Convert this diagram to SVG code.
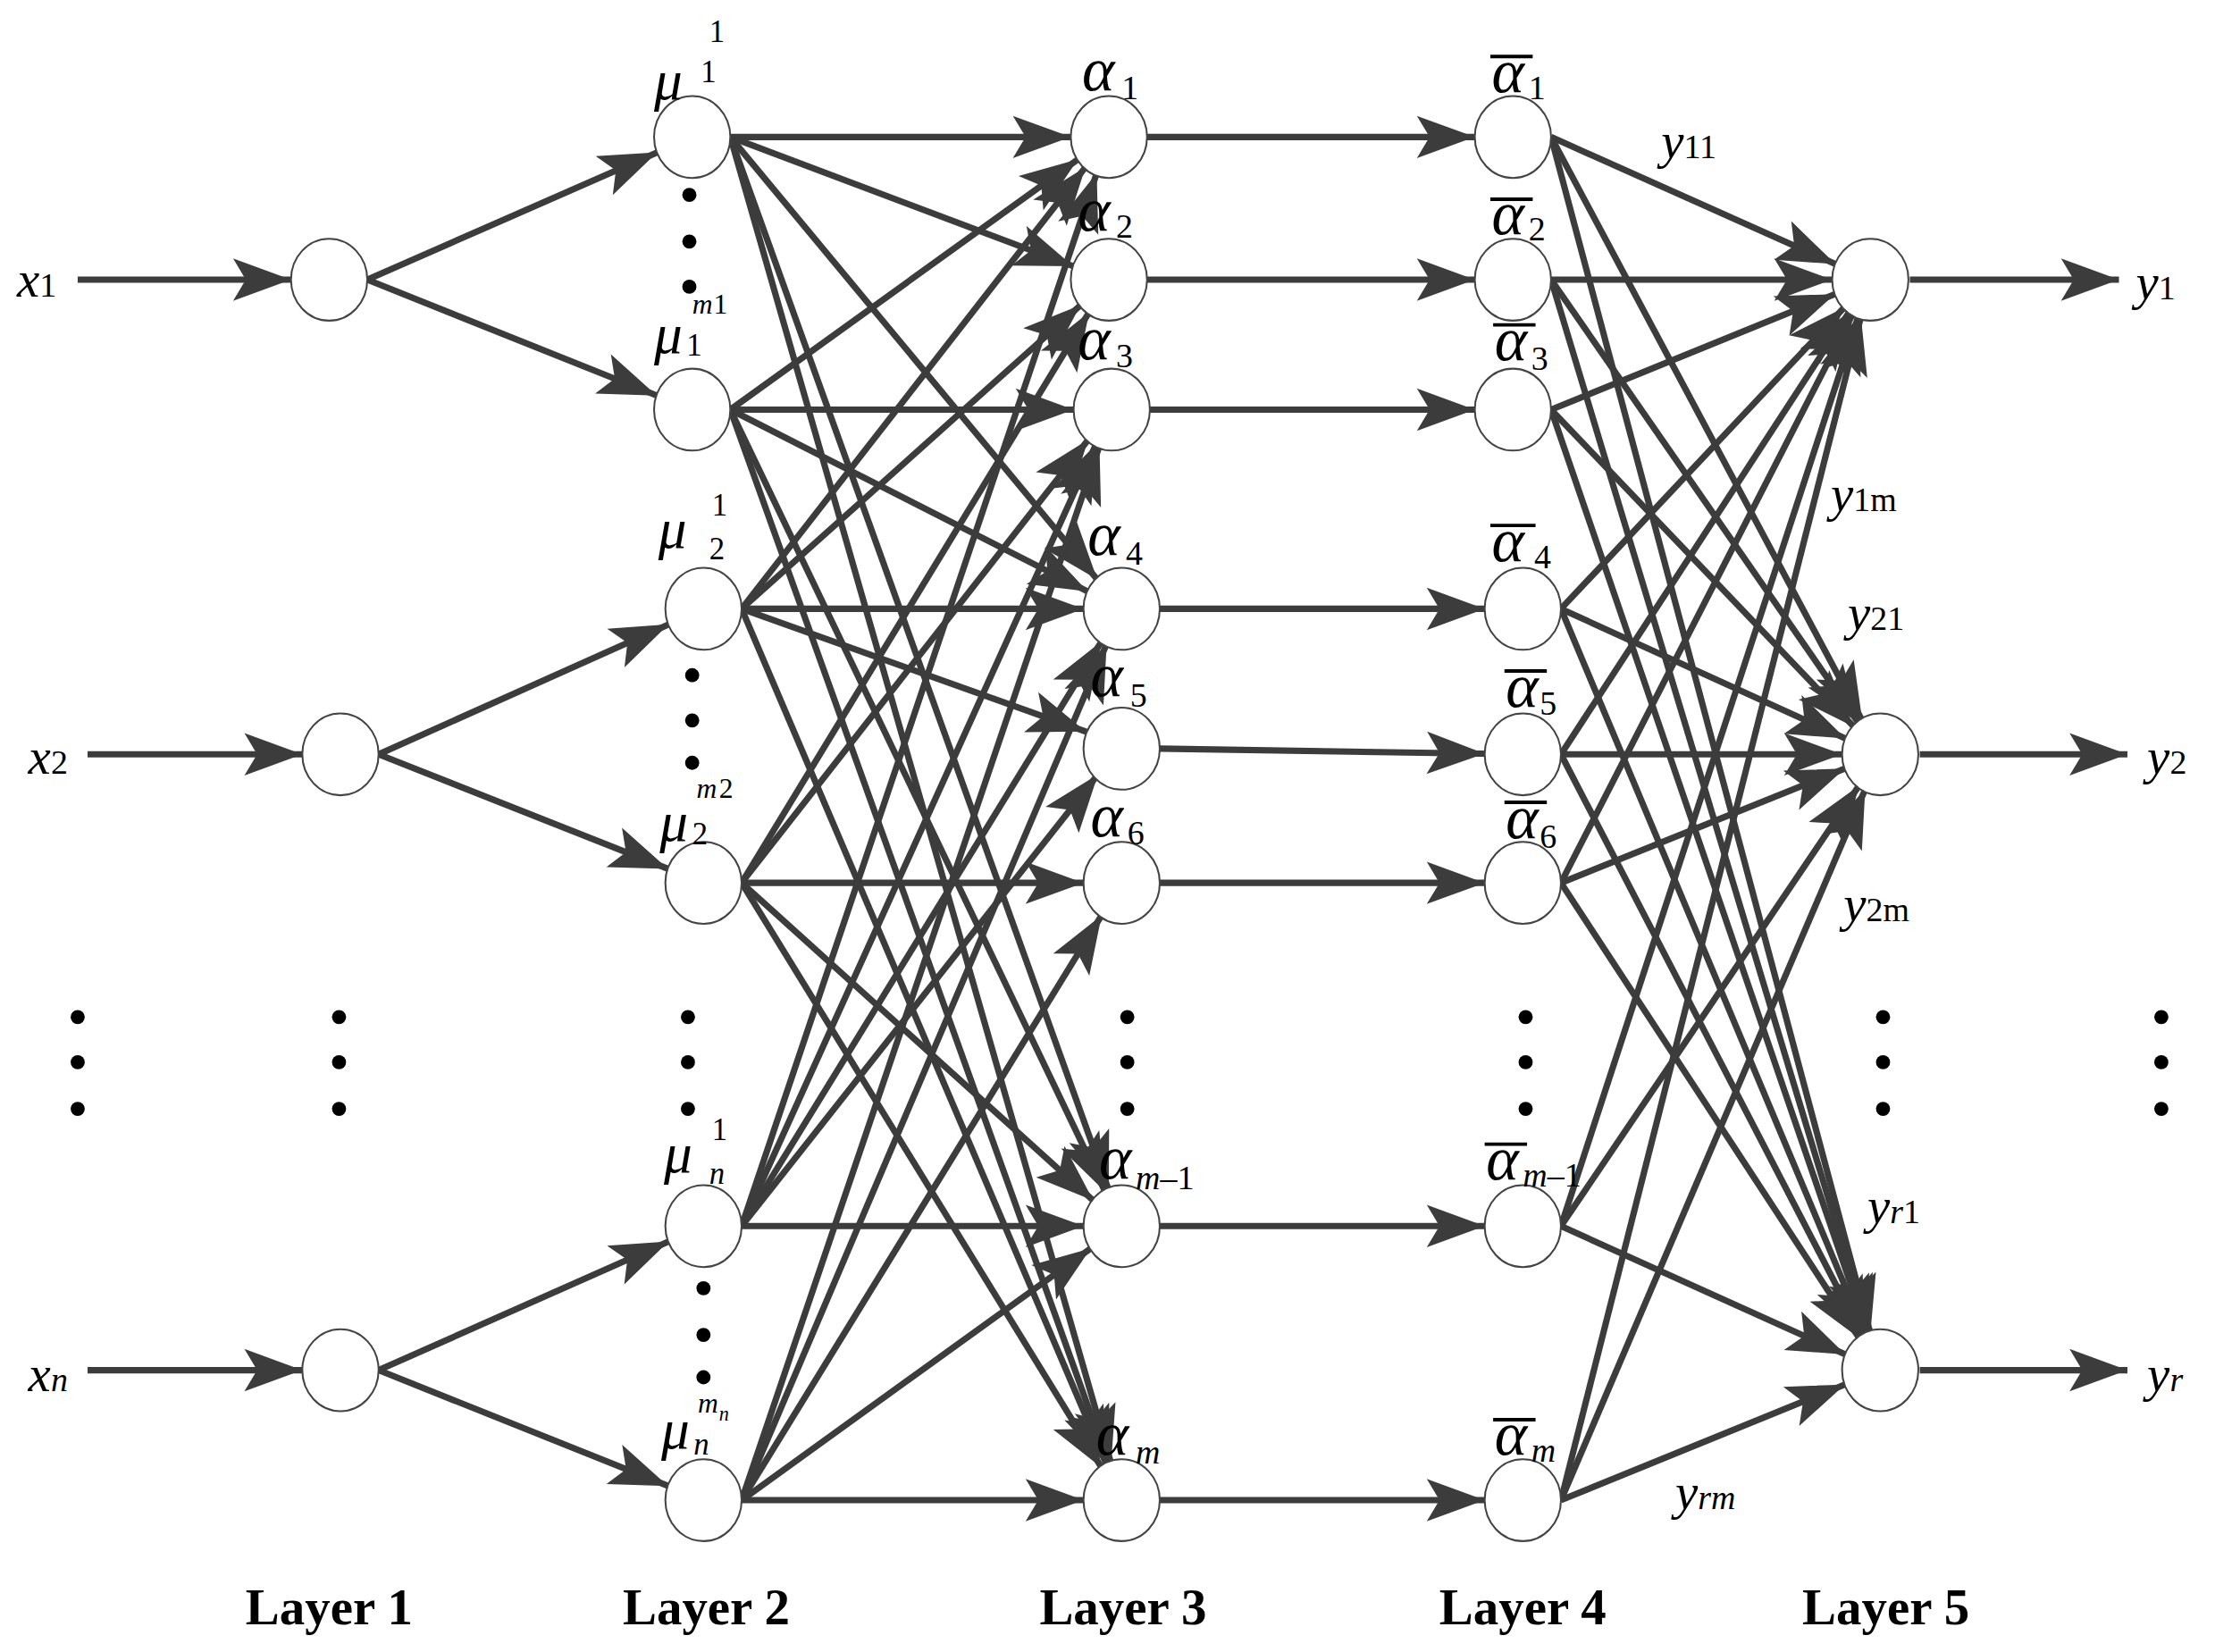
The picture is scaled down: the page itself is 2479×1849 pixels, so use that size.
<svg xmlns="http://www.w3.org/2000/svg" width="2479" height="1849" viewBox="0 0 2479 1849">
<style>
.c line{stroke:#3c3c3c;stroke-width:4.5;marker-end:url(#ah)}
.n ellipse{fill:#fff;stroke:#444;stroke-width:1.3}
text{font-family:"Liberation Serif","Times New Roman",serif;fill:#000}
.i{font-style:italic}
.b{font-weight:bold;font-size:36px}
.ob{stroke:#000;stroke-width:2.5}
</style>
<defs>
<marker id="ah" markerUnits="userSpaceOnUse" orient="auto" refX="0" refY="0" markerWidth="10" markerHeight="10" overflow="visible"><path d="M-27,0 L-68,-15 L-59,0 L-68,15 z" fill="#3c3c3c"/></marker>
<marker id="ae" markerUnits="userSpaceOnUse" orient="auto" refX="0" refY="0" markerWidth="10" markerHeight="10" overflow="visible"><path d="M0,0 L-41,-15 L-32,0 L-41,15 z" fill="#3c3c3c"/></marker>
</defs>
<rect width="2479" height="1849" fill="#fff"/>
<g transform="scale(1.581)">
<g id="connectors" class="c">
<line x1="55" y1="198" x2="233" y2="198"/>
<line x1="62" y1="534" x2="241" y2="534"/>
<line x1="62" y1="970" x2="241" y2="970"/>
<line x1="260" y1="198" x2="490" y2="97"/>
<line x1="260" y1="198" x2="490" y2="290"/>
<line x1="268" y1="534" x2="498" y2="431"/>
<line x1="268" y1="534" x2="498" y2="625"/>
<line x1="268" y1="970" x2="498" y2="868"/>
<line x1="268" y1="970" x2="498" y2="1062"/>
<line x1="517" y1="97" x2="785" y2="97"/>
<line x1="517" y1="97" x2="785" y2="198"/>
<line x1="517" y1="97" x2="794" y2="431"/>
<line x1="517" y1="97" x2="794" y2="868"/>
<line x1="517" y1="97" x2="794" y2="1062"/>
<line x1="517" y1="290" x2="785" y2="97"/>
<line x1="517" y1="290" x2="787" y2="290"/>
<line x1="517" y1="290" x2="794" y2="431"/>
<line x1="517" y1="290" x2="794" y2="868"/>
<line x1="517" y1="290" x2="794" y2="1062"/>
<line x1="525" y1="431" x2="785" y2="97"/>
<line x1="525" y1="431" x2="785" y2="198"/>
<line x1="525" y1="431" x2="794" y2="431"/>
<line x1="525" y1="431" x2="794" y2="527"/>
<line x1="525" y1="431" x2="794" y2="1062"/>
<line x1="525" y1="625" x2="785" y2="198"/>
<line x1="525" y1="625" x2="787" y2="290"/>
<line x1="525" y1="625" x2="794" y2="625"/>
<line x1="525" y1="625" x2="794" y2="868"/>
<line x1="525" y1="625" x2="794" y2="1062"/>
<line x1="525" y1="868" x2="785" y2="97"/>
<line x1="525" y1="868" x2="787" y2="290"/>
<line x1="525" y1="868" x2="794" y2="431"/>
<line x1="525" y1="868" x2="794" y2="527"/>
<line x1="525" y1="868" x2="794" y2="868"/>
<line x1="525" y1="1062" x2="787" y2="290"/>
<line x1="525" y1="1062" x2="794" y2="431"/>
<line x1="525" y1="1062" x2="794" y2="625"/>
<line x1="525" y1="1062" x2="794" y2="868"/>
<line x1="525" y1="1062" x2="794" y2="1062"/>
<line x1="812" y1="97" x2="1071" y2="97"/>
<line x1="812" y1="198" x2="1071" y2="198"/>
<line x1="814" y1="290" x2="1071" y2="290"/>
<line x1="821" y1="431" x2="1078" y2="431"/>
<line x1="821" y1="530" x2="1078" y2="534"/>
<line x1="821" y1="625" x2="1078" y2="625"/>
<line x1="821" y1="868" x2="1078" y2="868"/>
<line x1="821" y1="1062" x2="1078" y2="1062"/>
<line x1="1098" y1="97" x2="1324" y2="198"/>
<line x1="1098" y1="97" x2="1331" y2="534"/>
<line x1="1098" y1="97" x2="1331" y2="970"/>
<line x1="1098" y1="198" x2="1324" y2="198"/>
<line x1="1098" y1="198" x2="1331" y2="534"/>
<line x1="1098" y1="198" x2="1331" y2="970"/>
<line x1="1098" y1="290" x2="1324" y2="198"/>
<line x1="1098" y1="290" x2="1331" y2="534"/>
<line x1="1098" y1="290" x2="1331" y2="970"/>
<line x1="1105" y1="431" x2="1324" y2="198"/>
<line x1="1105" y1="431" x2="1331" y2="534"/>
<line x1="1105" y1="431" x2="1331" y2="970"/>
<line x1="1105" y1="534" x2="1324" y2="198"/>
<line x1="1105" y1="534" x2="1331" y2="534"/>
<line x1="1105" y1="534" x2="1331" y2="970"/>
<line x1="1105" y1="625" x2="1324" y2="198"/>
<line x1="1105" y1="625" x2="1331" y2="534"/>
<line x1="1105" y1="625" x2="1331" y2="970"/>
<line x1="1105" y1="868" x2="1324" y2="198"/>
<line x1="1105" y1="868" x2="1331" y2="534"/>
<line x1="1105" y1="868" x2="1331" y2="970"/>
<line x1="1105" y1="1062" x2="1324" y2="198"/>
<line x1="1105" y1="1062" x2="1331" y2="534"/>
<line x1="1105" y1="1062" x2="1331" y2="970"/>
<line x1="1352" y1="198" x2="1500" y2="198" style="marker-end:url(#ae)"/>
<line x1="1359" y1="534" x2="1506" y2="534" style="marker-end:url(#ae)"/>
<line x1="1359" y1="970" x2="1506" y2="970" style="marker-end:url(#ae)"/>
</g>
<g class="n">
<g id="n-l1-1"><ellipse cx="233" cy="198" rx="27" ry="29"/></g>
<g id="n-l1-2"><ellipse cx="241" cy="534" rx="27" ry="29"/></g>
<g id="n-l1-n"><ellipse cx="241" cy="970" rx="27" ry="29"/></g>
<g id="n-mu11"><ellipse cx="490" cy="97" rx="27" ry="29"/></g>
<g id="n-mu1m"><ellipse cx="490" cy="290" rx="27" ry="29"/></g>
<g id="n-mu21"><ellipse cx="498" cy="431" rx="27" ry="29"/></g>
<g id="n-mu2m"><ellipse cx="498" cy="625" rx="27" ry="29"/></g>
<g id="n-mun1"><ellipse cx="498" cy="868" rx="27" ry="29"/></g>
<g id="n-munm"><ellipse cx="498" cy="1062" rx="27" ry="29"/></g>
<g id="n-a1"><ellipse cx="785" cy="97" rx="27" ry="29"/></g>
<g id="n-a2"><ellipse cx="785" cy="198" rx="27" ry="29"/></g>
<g id="n-a3"><ellipse cx="787" cy="290" rx="27" ry="29"/></g>
<g id="n-a4"><ellipse cx="794" cy="431" rx="27" ry="29"/></g>
<g id="n-a5"><ellipse cx="794" cy="530" rx="27" ry="29"/></g>
<g id="n-a6"><ellipse cx="794" cy="625" rx="27" ry="29"/></g>
<g id="n-am1"><ellipse cx="794" cy="868" rx="27" ry="29"/></g>
<g id="n-am"><ellipse cx="794" cy="1062" rx="27" ry="29"/></g>
<g id="n-b1"><ellipse cx="1071" cy="97" rx="27" ry="29"/></g>
<g id="n-b2"><ellipse cx="1071" cy="198" rx="27" ry="29"/></g>
<g id="n-b3"><ellipse cx="1071" cy="290" rx="27" ry="29"/></g>
<g id="n-b4"><ellipse cx="1078" cy="431" rx="27" ry="29"/></g>
<g id="n-b5"><ellipse cx="1078" cy="534" rx="27" ry="29"/></g>
<g id="n-b6"><ellipse cx="1078" cy="625" rx="27" ry="29"/></g>
<g id="n-bm1"><ellipse cx="1078" cy="868" rx="27" ry="29"/></g>
<g id="n-bm"><ellipse cx="1078" cy="1062" rx="27" ry="29"/></g>
<g id="n-y1"><ellipse cx="1324" cy="198" rx="27" ry="29"/></g>
<g id="n-y2"><ellipse cx="1331" cy="534" rx="27" ry="29"/></g>
<g id="n-yr"><ellipse cx="1331" cy="970" rx="27" ry="29"/></g>
</g>
<g id="dots" fill="#000">
<circle cx="488" cy="138" r="5"/><circle cx="488" cy="171" r="5"/><circle cx="488" cy="203" r="5"/>
<circle cx="490" cy="478" r="5"/><circle cx="490" cy="510" r="5"/><circle cx="490" cy="540" r="5"/>
<circle cx="498" cy="912" r="5"/><circle cx="498" cy="945" r="5"/><circle cx="498" cy="975" r="5"/>
<circle cx="55" cy="720" r="5"/><circle cx="55" cy="752" r="5"/><circle cx="55" cy="785" r="5"/>
<circle cx="240" cy="720" r="5"/><circle cx="240" cy="752" r="5"/><circle cx="240" cy="785" r="5"/>
<circle cx="487" cy="720" r="5"/><circle cx="487" cy="752" r="5"/><circle cx="487" cy="785" r="5"/>
<circle cx="798" cy="720" r="5"/><circle cx="798" cy="752" r="5"/><circle cx="798" cy="785" r="5"/>
<circle cx="1080" cy="720" r="5"/><circle cx="1080" cy="752" r="5"/><circle cx="1080" cy="785" r="5"/>
<circle cx="1333" cy="720" r="5"/><circle cx="1333" cy="752" r="5"/><circle cx="1333" cy="785" r="5"/>
<circle cx="1530" cy="720" r="5"/><circle cx="1530" cy="752" r="5"/><circle cx="1530" cy="785" r="5"/>
</g>
<g id="labels">
<text x="12" y="210" font-size="36"><tspan class="i">x</tspan><tspan font-size="24">1</tspan></text>
<text x="20" y="548" font-size="36"><tspan class="i">x</tspan><tspan font-size="24">2</tspan></text>
<text x="20" y="985" font-size="36"><tspan class="i">x</tspan><tspan font-size="24" class="i">n</tspan></text>
<text x="1512" y="212" font-size="36"><tspan class="i">y</tspan><tspan font-size="24">1</tspan></text>
<text x="1520" y="548" font-size="36"><tspan class="i">y</tspan><tspan font-size="24">2</tspan></text>
<text x="1520" y="985" font-size="36"><tspan class="i">y</tspan><tspan font-size="24" class="i">r</tspan></text>
<text x="463" y="70" font-size="40" class="i">μ</text><text x="496" y="58" font-size="22">1</text><text x="502" y="30" font-size="22">1</text>
<text x="463" y="250" font-size="40" class="i">μ</text><text x="486" y="252" font-size="22">1</text><text x="490" y="222" font-size="20" class="i">m</text><text x="505" y="222" font-size="20">1</text>
<text x="466" y="388" font-size="40" class="i">μ</text><text x="502" y="396" font-size="22">2</text><text x="504" y="365" font-size="22">1</text>
<text x="467" y="595" font-size="40" class="i">μ</text><text x="490" y="598" font-size="22">2</text><text x="493" y="565" font-size="20" class="i">m</text><text x="509" y="565" font-size="20">2</text>
<text x="470" y="830" font-size="40" class="i">μ</text><text x="502" y="838" font-size="22" class="i">n</text><text x="504" y="807" font-size="22">1</text>
<text x="468" y="1025" font-size="40" class="i">μ</text><text x="491" y="1030" font-size="22" class="i">n</text><text x="494" y="1000" font-size="20" class="i">m</text><text x="509" y="1006" font-size="14" class="i">n</text>
<text x="766" y="64" font-size="44" class="i">α</text><text x="794" y="70" font-size="24">1</text>
<text x="763" y="163" font-size="44" class="i">α</text><text x="790" y="168" font-size="24">2</text>
<text x="763" y="254" font-size="44" class="i">α</text><text x="790" y="260" font-size="24">3</text>
<text x="770" y="393" font-size="44" class="i">α</text><text x="797" y="400" font-size="24">4</text>
<text x="772" y="493" font-size="44" class="i">α</text><text x="800" y="500" font-size="24">5</text>
<text x="772" y="592" font-size="44" class="i">α</text><text x="798" y="598" font-size="24">6</text>
<text x="778" y="834" font-size="44" class="i">α</text><text x="804" y="842" font-size="24"><tspan class="i">m</tspan>–1</text>
<text x="776" y="1030" font-size="44" class="i">α</text><text x="804" y="1036" font-size="24" class="i">m</text>
<text x="1056" y="65" font-size="44" class="i">α</text><text x="1082" y="70" font-size="24">1</text><line class="ob" x1="1055" y1="40" x2="1085" y2="40"/>
<text x="1056" y="166" font-size="44" class="i">α</text><text x="1082" y="170" font-size="24">2</text><line class="ob" x1="1055" y1="141" x2="1085" y2="141"/>
<text x="1058" y="255" font-size="44" class="i">α</text><text x="1084" y="262" font-size="24">3</text><line class="ob" x1="1057" y1="230" x2="1087" y2="230"/>
<text x="1056" y="397" font-size="44" class="i">α</text><text x="1086" y="402" font-size="24">4</text><line class="ob" x1="1055" y1="372" x2="1087" y2="372"/>
<text x="1066" y="500" font-size="44" class="i">α</text><text x="1090" y="506" font-size="24">5</text><line class="ob" x1="1065" y1="475" x2="1095" y2="475"/>
<text x="1066" y="593" font-size="44" class="i">α</text><text x="1090" y="600" font-size="24">6</text><line class="ob" x1="1065" y1="568" x2="1095" y2="568"/>
<text x="1052" y="835" font-size="44" class="i">α</text><text x="1078" y="840" font-size="24"><tspan class="i">m</tspan>–1</text><line class="ob" x1="1051" y1="810" x2="1081" y2="810"/>
<text x="1058" y="1030" font-size="44" class="i">α</text><text x="1084" y="1035" font-size="24" class="i">m</text><line class="ob" x1="1057" y1="1005" x2="1087" y2="1005"/>
<text x="1176" y="112" font-size="36"><tspan class="i">y</tspan><tspan font-size="24">11</tspan></text>
<text x="1296" y="362" font-size="36"><tspan class="i">y</tspan><tspan font-size="24">1m</tspan></text>
<text x="1308" y="446" font-size="36"><tspan class="i">y</tspan><tspan font-size="24">21</tspan></text>
<text x="1305" y="652" font-size="36"><tspan class="i">y</tspan><tspan font-size="24">2m</tspan></text>
<text x="1322" y="866" font-size="36"><tspan class="i">y</tspan><tspan font-size="24"><tspan class="i">r</tspan>1</tspan></text>
<text x="1186" y="1068" font-size="36"><tspan class="i">y</tspan><tspan font-size="24" class="i">rm</tspan></text>
<text x="233" y="1150" class="b" text-anchor="middle">Layer 1</text>
<text x="500" y="1150" class="b" text-anchor="middle">Layer 2</text>
<text x="795" y="1150" class="b" text-anchor="middle">Layer 3</text>
<text x="1078" y="1150" class="b" text-anchor="middle">Layer 4</text>
<text x="1335" y="1150" class="b" text-anchor="middle">Layer 5</text>
</g>
</g>
</svg>
